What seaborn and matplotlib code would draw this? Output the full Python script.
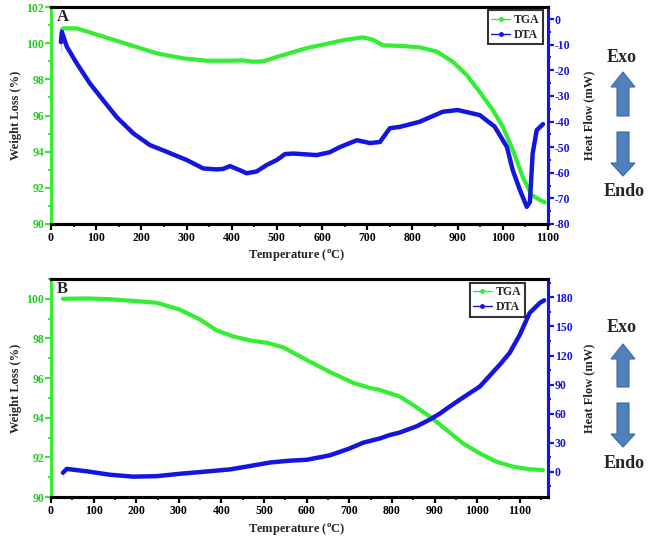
import numpy as np
import pandas as pd
import matplotlib
matplotlib.use("Agg")
import matplotlib.pyplot as plt
from matplotlib.lines import Line2D
from matplotlib.patches import FancyArrow
from matplotlib.ticker import MultipleLocator
import seaborn as sns

# --- data ---
# panel A
a_tga_temp = [24, 27, 57, 116, 175, 234, 293, 344, 396, 425, 448, 470, 500, 566, 617, 650,
              690, 712, 735, 772, 816, 854, 889, 920, 949, 978, 1000, 1022, 1044, 1064,
              1082, 1093]
a_tga_wt = [100.75, 100.82, 100.82, 100.36, 99.9, 99.44, 99.16, 99.03, 99.03, 99.05, 98.97,
            99.0, 99.24, 99.73, 100.0, 100.18, 100.32, 100.2, 99.88, 99.85, 99.77, 99.53,
            98.98, 98.24, 97.3, 96.3, 95.38, 94.1, 92.6, 91.6, 91.33, 91.2]
a_dta_temp = [22, 22, 24, 35, 57, 86, 115, 145, 182, 219, 256, 300, 337, 367, 381, 396, 418,
              433, 455, 477, 500, 518, 537, 588, 617, 639, 677, 706, 728, 750, 772, 816,
              867, 900, 949, 982, 1009, 1022, 1038, 1053, 1060, 1066, 1075, 1089]
a_dta_hf = [-13, -5, -5, -10.8, -17.3, -25.1, -31.6, -38.2, -44.6, -49.2, -51.8, -55, -58.3,
            -58.7, -58.5, -57.4, -59, -60.2, -59.5, -57, -55, -52.7, -52.5, -53.1, -52, -50,
            -47.3, -48.4, -48, -42.6, -42.1, -40.1, -36.2, -35.5, -37.5, -42, -49.9, -59,
            -66.8, -73.3, -71.4, -52.5, -43.4, -41]

# panel B
b_tga_temp = [28, 84, 138, 209, 248, 303, 350, 389, 428, 467, 507, 545, 601, 655, 710, 749,
              772, 818, 849, 889, 928, 967, 1006, 1045, 1084, 1123, 1154]
b_tga_wt = [100.0, 100.02, 99.98, 99.87, 99.8, 99.45, 98.95, 98.4, 98.1, 97.9, 97.78, 97.55,
            96.9, 96.3, 95.75, 95.5, 95.4, 95.07, 94.65, 94.06, 93.38, 92.7, 92.2, 91.78,
            91.53, 91.4, 91.36]
b_dta_temp = [28, 28, 37, 84, 138, 193, 248, 303, 357, 420, 467, 514, 560, 600, 654, 700,
              732, 772, 795, 818, 858, 889, 912, 936, 959, 1006, 1053, 1076, 1100, 1123,
              1147, 1157]
b_dta_hf = [-5, 3, 3, 0.5, -3, -5, -4.5, -2, 0, 2.5, 6, 9.6, 11.5, 12.4, 17, 24, 30, 34.5,
            38, 40.5, 47, 54, 60, 67.5, 74.4, 88, 110.6, 122.7, 141.6, 164, 174.4, 177]

GREEN = "#33ee33"
GREEN_TXT = "#22cc22"
BLUE = "#1515e0"
ARROW = "#4f81bd"

sns.set_style("ticks")
plt.rcParams['font.family'] = ['Liberation Serif', 'DejaVu Serif']
plt.rcParams['font.weight'] = 'bold'
plt.rcParams['axes.labelweight'] = 'bold'
plt.rcParams['axes.unicode_minus'] = False
plt.rcParams['mathtext.fontset'] = 'custom'
plt.rcParams['mathtext.rm'] = 'Liberation Serif:bold'
plt.rcParams['mathtext.it'] = 'Liberation Serif:bold'
plt.rcParams['mathtext.bf'] = 'Liberation Serif:bold'

fig = plt.figure(figsize=(6.56, 5.38), dpi=100)
W, H = 656, 538


def px_axes(x0, y0, x1, y1):
    return fig.add_axes([x0 / W, 1 - y1 / H, (x1 - x0) / W, (y1 - y0) / H])


def draw_panel(ax, tga_t, tga_w, dta_t, dta_h, xlim, wlim, hlim, hstep, hminor, label,
               leg_anchor, xlab_y):
    ax2 = ax.twinx()
    sns.lineplot(x=tga_t, y=tga_w, ax=ax, color=GREEN, lw=3, sort=False)
    sns.lineplot(x=dta_t, y=dta_h, ax=ax2, color=BLUE, lw=3.2, sort=False)

    ax.set_xlim(*xlim)
    ax.set_ylim(*wlim)
    ax2.set_ylim(*hlim)

    ax.xaxis.set_major_locator(MultipleLocator(100))
    ax.xaxis.set_minor_locator(MultipleLocator(50))
    ax.yaxis.set_major_locator(MultipleLocator(2))
    ax.yaxis.set_minor_locator(MultipleLocator(1))
    ax2.yaxis.set_major_locator(MultipleLocator(hstep))
    ax2.yaxis.set_minor_locator(MultipleLocator(hminor))

    for a in (ax, ax2):
        for s in a.spines.values():
            s.set_linewidth(2.2)
            s.set_color("black")
            s.set_visible(True)
    ax.spines['left'].set_color(GREEN)
    ax2.spines['left'].set_color(GREEN)
    ax2.spines['right'].set_color(BLUE)
    ax.spines['right'].set_color(BLUE)

    ax.tick_params(axis='x', which='major', length=4, width=1.6, labelsize=8.5,
                   colors='black', pad=2)
    ax.tick_params(axis='x', which='minor', length=2.5, width=1.4)
    ax.tick_params(axis='y', which='major', length=4, width=1.6, labelsize=8.5,
                   colors=GREEN, labelcolor=GREEN_TXT, pad=1)
    ax.tick_params(axis='y', which='minor', length=2.5, width=1.4, colors=GREEN)
    ax2.tick_params(axis='y', which='major', length=4, width=1.6, labelsize=8.5,
                    colors=BLUE, labelcolor=BLUE, pad=1)
    ax2.tick_params(axis='y', which='minor', length=2.5, width=1.4, colors=BLUE)
    for t in ax.get_xticklabels() + ax.get_yticklabels() + ax2.get_yticklabels():
        t.set_fontweight('bold')

    ax.set_xlabel(r"Temperature ($^{\rm o}$C)", fontsize=9)
    ax.set_ylabel("Weight Loss (%)", fontsize=9)
    ax2.set_ylabel("Heat Flow (mW)", fontsize=9)
    ax.xaxis.set_label_coords(0.495, xlab_y)
    ax.yaxis.set_label_coords(-0.058, 0.5)
    ax2.yaxis.set_label_coords(1.070, 0.5)

    ax.text(0.012, 0.955, label, transform=ax.transAxes, ha='left', va='center',
            fontsize=12, fontweight='bold')

    handles = [Line2D([], [], color=GREEN, lw=1, marker='o', ms=2.5),
               Line2D([], [], color=BLUE, lw=1, marker='o', ms=2.5)]
    leg = ax2.legend(handles, ["TGA", "DTA"], loc='upper right', bbox_to_anchor=leg_anchor,
                     frameon=True, fancybox=False, handlelength=1.6,
                     handletextpad=0.3, borderpad=0.3, labelspacing=0.25,
                     borderaxespad=0.0, prop={'weight': 'bold', 'size': 8.5})
    leg.get_frame().set_edgecolor('black')
    leg.get_frame().set_linewidth(1.5)
    return ax2


ax_a = px_axes(51, 7, 548, 224)
draw_panel(ax_a, a_tga_temp, a_tga_wt, a_dta_temp, a_dta_hf, (0, 1100), (90, 102),
           (-80, 4.7), 10, 5, "A", (0.99, 0.985), -0.105)

ax_b = px_axes(51, 279, 548, 497)
draw_panel(ax_b, b_tga_temp, b_tga_wt, b_dta_temp, b_dta_hf, (0, 1166), (90, 101),
           (-26, 199), 30, 15, "B", (0.953, 0.982), -0.108)

# Exo / Endo annotations in pixel space
over = fig.add_axes([0, 0, 1, 1])
over.set_xlim(0, W)
over.set_ylim(H, 0)
over.axis('off')
for exo_y, up_tail, up_tip, dn_tail, dn_tip, endo_y in [(57, 116, 72, 132, 176, 192),
                                                          (328, 387, 344, 403, 447, 463)]:
    over.text(622, exo_y, "Exo", ha='center', va='center', fontsize=13, fontweight='bold')
    over.text(624, endo_y, "Endo", ha='center', va='center', fontsize=13, fontweight='bold')
    over.add_patch(FancyArrow(623, up_tail, 0, up_tip - up_tail, width=12, head_width=24,
                              head_length=15, length_includes_head=True,
                              fc=ARROW, ec="#3a6a9e", lw=0.8))
    over.add_patch(FancyArrow(623, dn_tail, 0, dn_tip - dn_tail, width=12, head_width=24,
                              head_length=13, length_includes_head=True,
                              fc=ARROW, ec="#3a6a9e", lw=0.8))

fig.savefig("out.png", dpi=100)
